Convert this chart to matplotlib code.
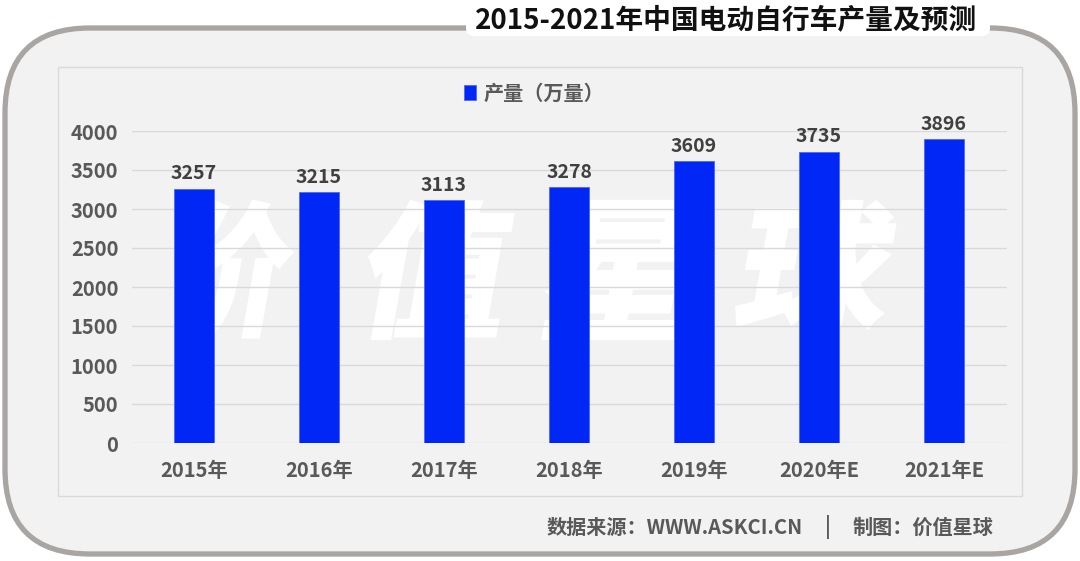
import numpy as np
import matplotlib.pyplot as plt
from matplotlib.patches import FancyBboxPatch, Rectangle, PathPatch
from matplotlib.textpath import TextPath
from matplotlib.font_manager import FontProperties
from matplotlib.transforms import Affine2D

plt.rcParams['font.family'] = ['Noto Sans CJK SC', 'DejaVu Sans']

# data
years = ['2015年', '2016年', '2017年', '2018年', '2019年', '2020年E', '2021年E']
output = [3257, 3215, 3113, 3278, 3609, 3735, 3896]
yticks = [0, 500, 1000, 1500, 2000, 2500, 3000, 3500, 4000]

W, H = 1080, 561
fig = plt.figure(figsize=(W / 100, H / 100), dpi=100)
fig.patch.set_facecolor('white')

# background layer in pixel coords
bg = fig.add_axes([0, 0, 1, 1])
bg.set_xlim(0, W)
bg.set_ylim(H, 0)
bg.axis('off')
frame = FancyBboxPatch((5, 28), 1070, 526, boxstyle='round,pad=0,rounding_size=85',
                       fc='#f2f2f2', ec='#a8a5a3', lw=3.8)
bg.add_patch(frame)
bg.add_patch(FancyBboxPatch((466, 6), 524, 30, boxstyle='round,pad=0,rounding_size=8',
                            fc='white', ec='none'))
bg.text(726, 21, '2015-2021年中国电动自行车产量及预测', ha='center', va='center',
        fontsize=20, fontweight='bold', color='#111111')
bg.add_patch(Rectangle((58, 67), 964, 429, fc='#f2f2f2', ec='#d9d9d9', lw=1))

# watermark, slanted white glyphs fitted into boxes
wm_prop = FontProperties(family='Noto Sans CJK SC', weight='bold')
wm_top, wm_bot = 202, 338
slant = 10
for ch, (l, r) in zip('价值星球', [(165, 300), (356, 518), (540, 705), (732, 901)]):
    tp = TextPath((0, 0), ch, size=100, prop=wm_prop)
    bb = tp.get_extents()
    h = wm_bot - wm_top
    w = (r - l) - h * np.tan(np.radians(slant))
    tr = (Affine2D().translate(-bb.x0, -bb.y0)
          .scale(w / bb.width, h / bb.height)
          .skew_deg(slant, 0).scale(1, -1).translate(l, wm_bot))
    bg.add_patch(PathPatch(tr.transform_path(tp), fc='white', ec='white', lw=3))

foot = dict(fontsize=14.5, fontweight='bold', color='#595959', va='center')
bg.text(803, 527, '数据来源：WWW.ASKCI.CN', ha='right', **foot)
bg.text(828, 527, '|', ha='center', **foot)
bg.text(993, 527, '制图：价值星球', ha='right', **foot)

# main chart
ax = fig.add_axes([131.5 / W, (H - 443) / H, 875 / W, 312 / H])
ax.patch.set_alpha(0)
x = range(len(years))
bars = ax.bar(x, output, width=0.32, color='#0027f5', edgecolor='#4d66f7', lw=0.6,
              zorder=3, label='产量（万量）')
for xi, v in zip(x, output):
    ax.text(xi, v + 70, str(v), ha='center', va='bottom', fontsize=14,
            fontweight='bold', color='#404040')
ax.set_xlim(-0.5, len(years) - 0.5)
ax.set_ylim(0, 4000)
ax.set_yticks(yticks)
ax.set_xticks(list(x))
ax.set_xticklabels(years)
ax.yaxis.grid(True, color='#d9d9d9', lw=1, zorder=0)
ax.tick_params(length=0, labelsize=14.5, labelcolor='#595959')
ax.tick_params(axis='x', pad=12)
ax.tick_params(axis='y', pad=9.5)
for lbl in ax.get_xticklabels() + ax.get_yticklabels():
    lbl.set_fontweight('bold')
for s in ax.spines.values():
    s.set_visible(False)

leg = fig.legend(loc='center', bbox_to_anchor=(534 / W, 1 - 93 / H), frameon=False,
                 handlelength=0.6, handleheight=0.8, handletextpad=0.4,
                 prop={'size': 14.5, 'weight': 'bold'})
for t in leg.get_texts():
    t.set_color('#595959')

fig.savefig('out.png', dpi=100, facecolor='white')
